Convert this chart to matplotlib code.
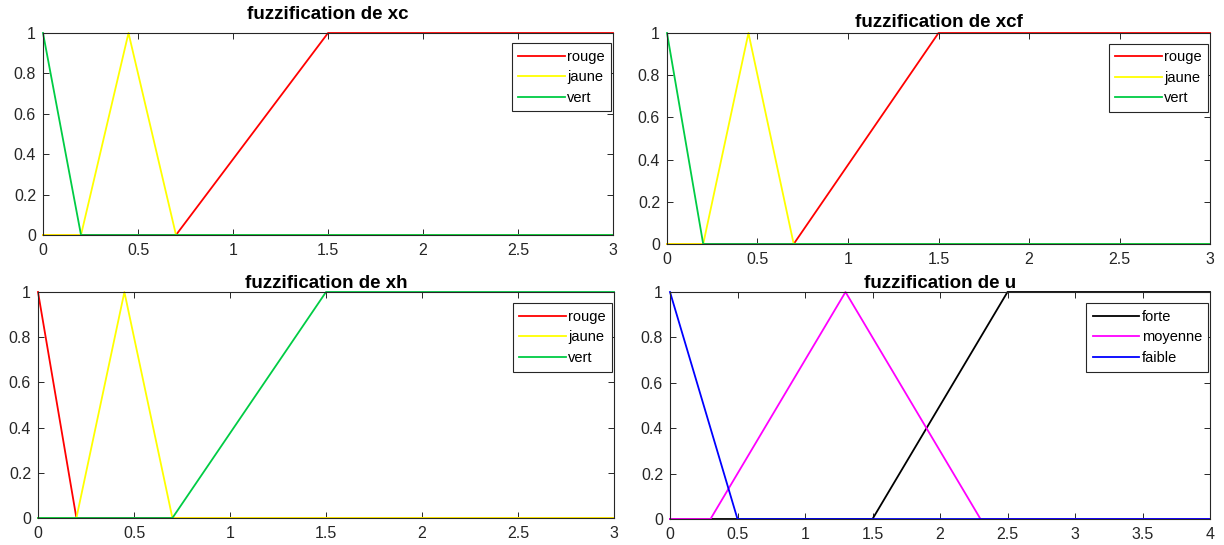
import matplotlib
matplotlib.use("Agg")
import matplotlib.pyplot as plt

plt.rcParams['font.family'] = ['Liberation Sans', 'DejaVu Sans']

# --- données (points des fonctions d'appartenance) ---
xc_rouge_x = [0, 0.7, 1.5, 3]
xc_rouge_y = [0, 0, 1, 1]
xc_jaune_x = [0, 0.2, 0.45, 0.7, 3]
xc_jaune_y = [0, 0, 1, 0, 0]
xc_vert_x = [0, 0.2, 3]
xc_vert_y = [1, 0, 0]

xh_rouge_x = [0, 0.2, 3]
xh_rouge_y = [1, 0, 0]
xh_jaune_x = [0, 0.2, 0.45, 0.7, 3]
xh_jaune_y = [0, 0, 1, 0, 0]
xh_vert_x = [0, 0.7, 1.5, 3]
xh_vert_y = [0, 0, 1, 1]

u_forte_x = [0, 1.5, 2.5, 4]
u_forte_y = [0, 0, 1, 1]
u_moyenne_x = [0, 0.3, 1.3, 2.3, 4]
u_moyenne_y = [0, 0, 1, 0, 0]
u_faible_x = [0, 0.5, 4]
u_faible_y = [1, 0, 0]

labels_feu = ["rouge", "jaune", "vert"]
labels_u = ["forte", "moyenne", "faible"]

rouge = "#ff0000"
jaune = "#ffff00"
vert = "#00cc44"

fig = plt.figure(figsize=(12.24, 5.45), dpi=100)

# positions en fraction de figure [gauche, bas, largeur, hauteur]
positions = [
    [43 / 1224, 1 - 235 / 545, (613 - 43) / 1224, 202 / 545],
    [667 / 1224, 1 - 244 / 545, (1210 - 667) / 1224, 211 / 545],
    [38 / 1224, 1 - 518 / 545, (614 - 38) / 1224, 226 / 545],
    [670 / 1224, 1 - 519 / 545, (1210 - 670) / 1224, 227 / 545],
]


def style_axe(ax, xmax, titre, pad_titre):
    ax.set_xlim(0, xmax)
    ax.set_ylim(0, 1)
    ax.set_yticks([0, 0.2, 0.4, 0.6, 0.8, 1])
    ax.set_yticklabels(["0", "0.2", "0.4", "0.6", "0.8", "1"])
    ax.tick_params(direction='in', top=True, right=True, labelsize=11.5,
                   colors='#262626', length=4, width=0.7)
    ax.tick_params(axis='x', pad=6)
    ax.tick_params(axis='y', pad=5)
    for s in ax.spines.values():
        s.set_color('#262626')
        s.set_linewidth(0.8)
    ax.set_title(titre, fontsize=13.5, fontweight='bold', pad=pad_titre)
    leg = ax.legend(loc='upper right', bbox_to_anchor=(0.997, 0.95),
                    fontsize=10.5, fancybox=False, framealpha=1,
                    edgecolor='#262626', handlelength=3.2,
                    handletextpad=0.15, borderpad=0.45, labelspacing=0.45,
                    borderaxespad=0.0)
    leg.get_frame().set_linewidth(0.8)


lw = 1.3

ax1 = fig.add_axes(positions[0])
ax1.plot(xc_rouge_x, xc_rouge_y, color=rouge, lw=lw, label=labels_feu[0], clip_on=False)
ax1.plot(xc_jaune_x, xc_jaune_y, color=jaune, lw=lw, label=labels_feu[1], clip_on=False)
ax1.plot(xc_vert_x, xc_vert_y, color=vert, lw=lw, label=labels_feu[2], clip_on=False)
ax1.set_xticks([0, 0.5, 1, 1.5, 2, 2.5, 3])
ax1.set_xticklabels(["0", "0.5", "1", "1.5", "2", "2.5", "3"])
style_axe(ax1, 3, "fuzzification de xc", 10)

ax2 = fig.add_axes(positions[1])
ax2.plot(xc_rouge_x, xc_rouge_y, color=rouge, lw=lw, label=labels_feu[0], clip_on=False)
ax2.plot(xc_jaune_x, xc_jaune_y, color=jaune, lw=lw, label=labels_feu[1], clip_on=False)
ax2.plot(xc_vert_x, xc_vert_y, color=vert, lw=lw, label=labels_feu[2], clip_on=False)
ax2.set_xticks([0, 0.5, 1, 1.5, 2, 2.5, 3])
ax2.set_xticklabels(["0", "0.5", "1", "1.5", "2", "2.5", "3"])
style_axe(ax2, 3, "fuzzification de xcf", 4)

ax3 = fig.add_axes(positions[2])
ax3.plot(xh_rouge_x, xh_rouge_y, color=rouge, lw=lw, label=labels_feu[0], clip_on=False)
ax3.plot(xh_jaune_x, xh_jaune_y, color=jaune, lw=lw, label=labels_feu[1], clip_on=False)
ax3.plot(xh_vert_x, xh_vert_y, color=vert, lw=lw, label=labels_feu[2], clip_on=False)
ax3.set_xticks([0, 0.5, 1, 1.5, 2, 2.5, 3])
ax3.set_xticklabels(["0", "0.5", "1", "1.5", "2", "2.5", "3"])
style_axe(ax3, 3, "fuzzification de xh", 3)

ax4 = fig.add_axes(positions[3])
ax4.plot(u_forte_x, u_forte_y, color='black', lw=lw, label=labels_u[0], clip_on=False)
ax4.plot(u_moyenne_x, u_moyenne_y, color='#ff00ff', lw=lw, label=labels_u[1], clip_on=False)
ax4.plot(u_faible_x, u_faible_y, color='#0000ff', lw=lw, label=labels_u[2], clip_on=False)
ax4.set_xticks([0, 0.5, 1, 1.5, 2, 2.5, 3, 3.5, 4])
ax4.set_xticklabels(["0", "0.5", "1", "1.5", "2", "2.5", "3", "3.5", "4"])
style_axe(ax4, 4, "fuzzification de u", 3)

fig.savefig("out.png", dpi=100)
